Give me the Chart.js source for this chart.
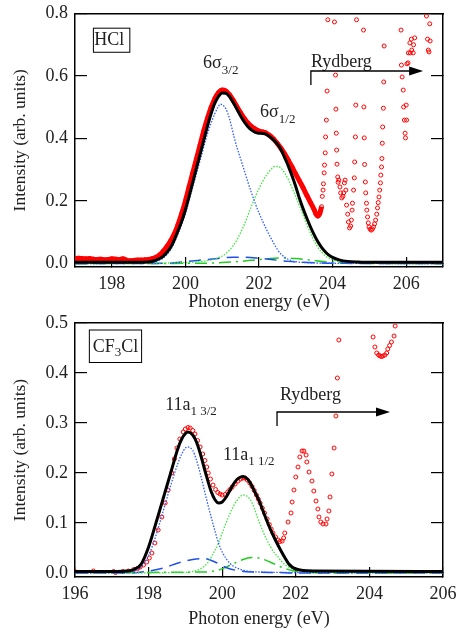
<!doctype html>
<html>
<head>
<meta charset="utf-8">
<title>HCl / CF3Cl</title>
<script src="https://cdn.jsdelivr.net/npm/chart.js@4.4.1/dist/chart.umd.min.js"></script>
<style>
  body { margin: 0; background: #fff; }
  .panel { position: absolute; left: 0; width: 456px; }
  .frameTop { position: absolute; left: 74px; width: 370px; height: 0; border-top: 1.5px solid #000; z-index: 5; }
</style>
</head>
<body>
<div class="panel" style="top:0;height:317px"><canvas id="hcl" width="456" height="317"></canvas></div>
<div class="panel" style="top:295px;height:339px"><canvas id="cf3cl" width="456" height="339"></canvas></div>
<div class="frameTop" style="top:13px"></div>
<div class="frameTop" style="top:322px"></div>
<script>
// ---------- HCl (top panel) ----------
var hclXTicks = [198, 200, 202, 204, 206];
var hclYTicks = [0, 0.2, 0.4, 0.6, 0.8];

// measured points, dense part (drawn as a thick band)
var hclExpX = [197.0,197.1,197.2,197.3,197.4,197.5,197.6,197.7,197.8,197.9,198.0,198.1,198.2,198.3,198.4,198.5,198.6,198.7,198.8,198.9,
  199.0,199.1,199.2,199.3,199.4,199.5,199.6,199.7,199.8,199.9,200.0,200.1,200.2,200.3,200.4,200.5,200.6,200.7,200.8,200.9,
  201.0,201.1,201.2,201.3,201.4,201.5,201.6,201.7,201.8,201.9,202.0,202.1,202.2,202.3,202.4,202.5,202.6,202.7,202.8,202.9,
  203.0,203.1,203.2,203.3,203.4,203.5,203.55,203.6,203.65,203.7];
var hclExpY = [0.016,0.017,0.016,0.015,0.016,0.014,0.013,0.014,0.012,0.013,0.015,0.014,0.013,0.015,0.011,0.009,0.010,0.011,0.011,0.012,
  0.013,0.016,0.020,0.028,0.040,0.055,0.073,0.095,0.125,0.160,0.200,0.245,0.290,0.335,0.380,0.425,0.465,0.500,0.528,0.547,
  0.555,0.552,0.540,0.522,0.502,0.482,0.464,0.449,0.438,0.430,0.424,0.421,0.417,0.409,0.398,0.384,0.368,0.350,0.330,0.308,
  0.286,0.264,0.242,0.218,0.195,0.172,0.158,0.152,0.160,0.182];

// measured points, Rydberg region
var hclRydX = [203.72,203.74,203.75,203.77,203.78,203.80,203.81,203.83,203.85,203.87,
  204.05,204.08,204.09,204.10,204.11,204.12,204.14,204.15,204.17,204.20,204.22,204.25,204.28,204.30,204.32,204.34,204.36,204.38,
  204.41,204.43,204.46,204.49,204.51,204.53,204.54,204.57,204.59,204.60,204.62,204.63,204.65,
  204.84,204.85,204.86,204.87,204.89,204.90,204.92,204.93,204.95,204.97,204.99,205.02,205.05,205.08,205.11,205.14,205.17,
  205.20,205.22,205.24,205.26,205.28,205.30,205.31,205.33,205.34,205.35,205.36,205.38,205.39,205.40,
  205.86,205.87,205.89,205.92,205.93,205.95,205.97,205.98,206.00,206.01,206.02,206.05,206.06,206.10,206.11,206.14,206.15,
  206.19,206.20,206.23,206.55,206.58,206.60,206.62,206.64,206.65];
var hclRydY = [0.215,0.235,0.255,0.290,0.315,0.354,0.405,0.459,0.552,0.780,
  0.773,0.603,0.494,0.417,0.363,0.318,0.277,0.260,0.267,0.245,0.226,0.210,0.215,0.226,0.258,0.267,0.235,0.187,
  0.158,0.133,0.114,0.120,0.139,0.171,0.193,0.235,0.274,0.325,0.405,0.507,0.780,
  0.747,0.501,0.402,0.317,0.261,0.226,0.193,0.171,0.149,0.130,0.117,0.110,0.107,0.110,0.117,0.127,0.139,
  0.158,0.178,0.195,0.213,0.235,0.258,0.283,0.309,0.336,0.385,0.437,0.497,0.581,0.696,
  0.747,0.635,0.597,0.555,0.501,0.459,0.417,0.402,0.507,0.459,0.639,0.642,0.674,0.706,0.674,0.718,0.683,
  0.674,0.700,0.722,0.792,0.718,0.683,0.677,0.767,0.712];

// fit (sum)
var hclFitX = [197.0,198.0,199.0,199.2,199.3,199.4,199.5,199.6,199.7,199.8,199.9,200.0,200.1,200.2,200.3,200.4,200.5,200.6,200.7,200.8,200.9,
  201.0,201.1,201.2,201.3,201.4,201.5,201.6,201.7,201.8,201.9,202.0,202.1,202.2,202.3,202.4,202.5,202.6,202.7,202.8,202.9,
  203.0,203.1,203.2,203.3,203.4,203.5,203.6,203.7,203.8,203.9,204.0,204.2,204.4,204.7,205.0,207.0];
var hclFitY = [0.004,0.004,0.005,0.011,0.016,0.024,0.036,0.052,0.076,0.105,0.135,0.172,0.215,0.260,0.305,0.350,0.395,0.440,0.480,0.513,0.535,
  0.546,0.545,0.534,0.515,0.494,0.472,0.453,0.438,0.427,0.420,0.417,0.416,0.413,0.405,0.395,0.382,0.364,0.338,0.311,0.280,
  0.246,0.208,0.175,0.145,0.117,0.092,0.070,0.052,0.038,0.027,0.020,0.011,0.007,0.005,0.004,0.004];

// 6s 3/2 component (blue dotted)
var hclS32X = [197.0,199.0,199.4,199.6,199.8,200.0,200.2,200.4,200.6,200.8,200.9,200.95,201.0,201.1,201.2,201.32,201.4,201.5,201.6,201.7,201.8,201.9,
  202.0,202.1,202.2,202.3,202.4,202.5,202.6,202.8,203.0,203.5,204.0,207.0];
var hclS32Y = [0.000,0.003,0.018,0.045,0.095,0.160,0.245,0.330,0.415,0.480,0.503,0.510,0.508,0.495,0.463,0.406,0.372,0.335,0.298,0.260,0.225,0.192,
  0.162,0.135,0.110,0.087,0.065,0.045,0.030,0.013,0.006,0.002,0.001,0.000];

// 6s 1/2 component (green dotted)
var hclS12X = [197.0,200.0,200.5,200.8,201.0,201.2,201.4,201.6,201.8,202.0,202.2,202.45,202.6,202.8,203.0,203.2,203.4,203.6,203.8,204.0,204.4,205.0,207.0];
var hclS12Y = [0.000,0.003,0.008,0.015,0.024,0.043,0.076,0.125,0.185,0.240,0.282,0.311,0.305,0.268,0.214,0.155,0.097,0.052,0.025,0.012,0.004,0.001,0.000];

// small broad components (dashed)
var hclBlueDashX = [197.0,199.5,200.0,200.5,201.0,201.3,201.6,202.0,202.4,202.8,203.2,203.6,204.0,207.0];
var hclBlueDashY = [0.000,0.001,0.006,0.012,0.018,0.020,0.020,0.017,0.012,0.007,0.004,0.002,0.001,0.000];
var hclGreenDashX = [197.0,200.5,201.0,201.5,202.0,202.4,202.7,203.0,203.4,203.8,204.2,204.6,207.0];
var hclGreenDashY = [0.000,0.001,0.003,0.007,0.013,0.017,0.018,0.016,0.011,0.006,0.003,0.001,0.000];

// ---------- CF3Cl (bottom panel) ----------
var cfXTicks = [196, 198, 200, 202, 204, 206];
var cfYTicks = [0, 0.1, 0.2, 0.3, 0.4, 0.5];

var cfExpX = [196.0,196.5,197.05,197.1,197.3,197.45,197.6,197.7,197.77,197.86,197.95,198.02,198.09,198.17,198.26,198.36,198.45,198.53,198.63,
  198.7,198.77,198.85,198.94,199.0,199.07,199.13,199.2,199.26,199.33,199.4,199.47,199.53,199.58,199.62,199.68,199.75,199.82,199.88,199.94,
  200.0,200.08,200.15,200.21,200.27,200.35,200.43,200.5,200.56,200.62,200.68,200.75,200.81,200.87,200.93,200.98,201.03,201.09,201.15,
  201.22,201.28,201.33,201.38,201.45,201.52,201.57,201.63,201.67,201.7,201.79,201.87,201.9,201.95,202.0,202.06,202.11,202.17,202.22,
  202.28,202.3,202.36,202.44,202.49,202.55,202.6,202.63,202.68,202.74,202.82,202.85,202.9,202.93,202.98,203.04,203.09,203.13,203.17,
  204.1,204.15,204.2,204.25,204.29,204.33,204.37,204.42,204.47,204.5,204.55,204.6,204.67,204.7];
var cfExpY = [0.003,0.004,0.003,0.001,0.003,0.004,0.007,0.009,0.012,0.016,0.022,0.030,0.040,0.060,0.086,0.112,0.140,0.166,0.200,
  0.228,0.250,0.268,0.282,0.288,0.291,0.290,0.285,0.278,0.265,0.252,0.238,0.225,0.212,0.200,0.188,0.176,0.167,0.161,0.158,
  0.156,0.157,0.162,0.167,0.172,0.178,0.184,0.188,0.190,0.190,0.186,0.180,0.173,0.165,0.156,0.148,0.140,0.130,0.120,
  0.108,0.097,0.088,0.080,0.072,0.066,0.063,0.064,0.070,0.080,0.102,0.120,0.142,0.166,0.192,0.212,0.232,0.244,0.244,
  0.236,0.222,0.202,0.184,0.164,0.144,0.128,0.112,0.102,0.098,0.098,0.108,0.124,0.152,0.198,0.250,0.314,0.390,0.466,
  0.472,0.452,0.440,0.436,0.434,0.433,0.434,0.436,0.440,0.448,0.455,0.462,0.474,0.494];

var cfFitX = [196.0,197.0,197.4,197.6,197.8,198.0,198.2,198.4,198.6,198.8,198.9,199.0,199.07,199.2,199.3,199.4,199.5,199.6,199.7,199.8,199.9,
  200.0,200.1,200.2,200.3,200.4,200.5,200.57,200.7,200.8,200.9,201.0,201.1,201.2,201.3,201.4,201.5,201.6,201.7,201.8,201.9,202.0,202.2,202.5,206.0];
var cfFitY = [0.003,0.003,0.004,0.007,0.018,0.052,0.100,0.150,0.200,0.250,0.268,0.279,0.282,0.276,0.262,0.240,0.213,0.187,0.163,0.147,0.140,
  0.142,0.151,0.164,0.177,0.187,0.192,0.193,0.187,0.175,0.160,0.145,0.126,0.107,0.089,0.073,0.058,0.044,0.031,0.019,0.012,0.008,0.005,0.004,0.003];

// 11a1 3/2 component (blue dotted)
var cfA32X = [196.0,197.5,197.6,197.8,198.0,198.2,198.4,198.6,198.8,198.9,199.0,199.07,199.2,199.3,199.4,199.5,199.6,199.7,199.8,199.9,
  200.0,200.2,200.4,200.6,201.0,202.0,206.0];
var cfA32Y = [0.000,0.001,0.004,0.012,0.035,0.075,0.125,0.175,0.220,0.238,0.250,0.252,0.245,0.226,0.200,0.170,0.140,0.112,0.085,0.060,
  0.042,0.020,0.010,0.005,0.002,0.001,0.000];

// 11a1 1/2 component (green dotted)
var cfA12X = [196.0,199.0,199.2,199.4,199.6,199.8,199.9,200.0,200.2,200.4,200.57,200.7,200.8,201.0,201.2,201.4,201.52,201.6,201.8,202.0,202.3,203.0,206.0];
var cfA12Y = [0.000,0.001,0.003,0.008,0.020,0.045,0.060,0.080,0.117,0.145,0.156,0.152,0.142,0.103,0.068,0.042,0.032,0.024,0.012,0.006,0.002,0.001,0.000];

var cfBlueDashX = [196.0,197.5,198.0,198.4,198.8,199.2,199.5,199.8,200.1,200.4,200.8,201.5,202.0,206.0];
var cfBlueDashY = [0.000,0.000,0.004,0.010,0.020,0.027,0.029,0.022,0.011,0.005,0.002,0.001,0.000,0.000];
var cfGreenDashX = [196.0,199.5,199.9,200.2,200.5,200.8,201.0,201.3,201.6,201.9,202.2,203.0,206.0];
var cfGreenDashY = [0.001,0.002,0.006,0.015,0.025,0.031,0.030,0.022,0.012,0.005,0.002,0.000,0.000];

// ---------- helpers ----------
var SERIF = '"Liberation Serif", "DejaVu Serif", serif';
var INK = '#222';

function pts(xs, ys) {
  return xs.map(function (x, i) { return { x: x, y: ys[i] }; });
}

function lineSet(xs, ys, color, width, dash, order) {
  return {
    data: pts(xs, ys), showLine: true, borderColor: color, borderWidth: width,
    borderDash: dash, pointRadius: 0, cubicInterpolationMode: 'monotone', order: order
  };
}

function circleSet(xs, ys, order, bandWidth) {
  return {
    data: pts(xs, ys), showLine: !!bandWidth, borderColor: 'red', borderWidth: bandWidth || 0,
    cubicInterpolationMode: 'monotone',
    pointRadius: 2, pointBorderWidth: 1, pointBorderColor: 'red',
    pointBackgroundColor: 'rgba(0,0,0,0)', order: order
  };
}

// the plot box is fixed by the axis sizes; drop the label overhang padding
function fixSize(prop, size) {
  return function (s) {
    s[prop] = size;
    s.paddingTop = 0; s.paddingBottom = 0; s.paddingLeft = 0; s.paddingRight = 0;
  };
}

function scales(xMin, xMax, xTicks, yMin, yMax, yTicks, topH, bottomH) {
  var setX = function (s) { s.ticks = xTicks.map(function (v) { return { value: v }; }); };
  var setY = function (s) { s.ticks = yTicks.map(function (v) { return { value: v }; }); };
  return {
    x: {
      type: 'linear', position: 'bottom', min: xMin, max: xMax,
      afterBuildTicks: setX, afterFit: fixSize('height', bottomH),
      grid: { drawOnChartArea: false, tickLength: -10, color: '#000', lineWidth: 1.2 },
      border: { color: '#000', width: 1.5 },
      ticks: { padding: 16, color: INK, font: { family: SERIF, size: 18 }, maxRotation: 0,
        callback: function (v) { return String(v); } },
      title: { display: true, text: 'Photon energy (eV)', color: INK,
        font: { family: SERIF, size: 18 }, padding: { top: 0, bottom: 4 } }
    },
    x2: {
      type: 'linear', position: 'top', min: xMin, max: xMax,
      afterFit: fixSize('height', topH),
      grid: { display: true, drawOnChartArea: false, drawTicks: false },
      ticks: { display: false },
      border: { display: true, color: '#000', width: 1.5 }
    },
    y: {
      type: 'linear', position: 'left', min: yMin, max: yMax,
      afterBuildTicks: setY, afterFit: fixSize('width', 75),
      grid: { drawOnChartArea: false, tickLength: -12, color: '#000', lineWidth: 1.2 },
      border: { color: '#000', width: 1.5 },
      ticks: { padding: 19, color: INK, font: { family: SERIF, size: 18 },
        callback: function (v) { return v.toFixed(1); } },
      title: { display: true, text: 'Intensity (arb. units)', color: INK,
        font: { family: SERIF, size: 17.5 }, padding: { top: 10, bottom: 0 } }
    },
    y2: {
      type: 'linear', position: 'right', min: yMin, max: yMax,
      afterBuildTicks: setY, afterFit: fixSize('width', 13),
      grid: { drawOnChartArea: false, tickLength: -12, color: '#000', lineWidth: 1.2 },
      ticks: { display: false },
      border: { color: '#000', width: 1.5 }
    }
  };
}

// text with subscripts: parts = [[text, size, dy], ...]
function rich(ctx, x, y, parts) {
  ctx.textBaseline = 'alphabetic';
  ctx.textAlign = 'left';
  parts.forEach(function (p) {
    ctx.font = p[1] + 'px ' + SERIF;
    ctx.fillText(p[0], x, y + p[2]);
    x += ctx.measureText(p[0]).width;
  });
}

function arrow(ctx, x0, yTop, yLow, x1) {
  ctx.strokeStyle = '#000';
  ctx.fillStyle = '#000';
  ctx.lineWidth = 1.3;
  ctx.beginPath();
  ctx.moveTo(x0, yLow);
  ctx.lineTo(x0, yTop);
  ctx.lineTo(x1 - 12, yTop);
  ctx.stroke();
  ctx.beginPath();
  ctx.moveTo(x1, yTop);
  ctx.lineTo(x1 - 14, yTop - 4.5);
  ctx.lineTo(x1 - 14, yTop + 4.5);
  ctx.closePath();
  ctx.fill();
}

function notes(draw) {
  return {
    id: 'notes',
    afterDraw: function (chart) {
      var X = function (v) { return chart.scales.x.getPixelForValue(v); };
      var Y = function (v) { return chart.scales.y.getPixelForValue(v); };
      var ctx = chart.ctx;
      ctx.save();
      ctx.setLineDash([]);
      ctx.fillStyle = INK;
      draw(ctx, X, Y);
      ctx.restore();
    }
  };
}

function makeChart(id, datasets, sc, plugin) {
  new Chart(document.getElementById(id), {
    type: 'scatter',
    data: { datasets: datasets },
    options: {
      responsive: false, animation: false, devicePixelRatio: 1,
      layout: { padding: 0 },
      plugins: { legend: { display: false }, tooltip: { enabled: false } },
      scales: sc
    },
    plugins: [plugin]
  });
}

// ---------- top chart ----------
makeChart('hcl', [
  lineSet(hclFitX, hclFitY, '#000', 3, [], 0),
  lineSet(hclS32X, hclS32Y, '#2f5bff', 1.3, [1.5, 1.5], 1),
  lineSet(hclS12X, hclS12Y, '#3ee63e', 1.3, [1.5, 1.5], 2),
  lineSet(hclBlueDashX, hclBlueDashY, '#1f4fe8', 1.5, [12, 7], 3),
  lineSet(hclGreenDashX, hclGreenDashY, '#22cc22', 1.5, [12, 5, 2, 5], 4),
  circleSet(hclExpX, hclExpY, 5, 5),
  circleSet(hclRydX, hclRydY, 6)
], scales(197, 207, hclXTicks, -0.011, 0.8, hclYTicks, 13.5, 50), notes(function (ctx, X, Y) {
  ctx.strokeStyle = '#000';
  ctx.lineWidth = 1;
  ctx.strokeRect(X(197.5), Y(0.753), X(198.49) - X(197.5), Y(0.676) - Y(0.753));
  rich(ctx, X(197.52), Y(0.699), [['HCl', 18, 0]]);
  rich(ctx, X(200.48), Y(0.626), [['6\u03c3', 18, 0], ['3/2', 13, 6]]);
  rich(ctx, X(202.03), Y(0.469), [['6\u03c3', 18, 0], ['1/2', 13, 6]]);
  rich(ctx, X(203.41), Y(0.629), [['Rydberg', 18, 0]]);
  arrow(ctx, X(203.41), Y(0.616), Y(0.571), X(206.46));
}));

// ---------- bottom chart ----------
makeChart('cf3cl', [
  lineSet(cfFitX, cfFitY, '#000', 3, [], 0),
  lineSet(cfA32X, cfA32Y, '#2f5bff', 1.3, [1.5, 1.5], 1),
  lineSet(cfA12X, cfA12Y, '#3ee63e', 1.3, [1.5, 1.5], 2),
  lineSet(cfBlueDashX, cfBlueDashY, '#1f4fe8', 1.5, [12, 7], 3),
  lineSet(cfGreenDashX, cfGreenDashY, '#22cc22', 1.5, [12, 5, 2, 5], 4),
  circleSet(cfExpX, cfExpY, 5)
], scales(196, 206, cfXTicks, -0.008, 0.5, cfYTicks, 28, 57), notes(function (ctx, X, Y) {
  ctx.strokeStyle = '#000';
  ctx.lineWidth = 1;
  ctx.strokeRect(X(196.39), Y(0.486), X(197.81) - X(196.39), Y(0.421) - Y(0.486));
  rich(ctx, X(196.48), Y(0.442), [['CF', 18, 0], ['3', 13, 4], ['Cl', 18, 0]]);
  rich(ctx, X(198.45), Y(0.326), [['11a', 18, 0], ['1 3/2', 13, 5]]);
  rich(ctx, X(200.02), Y(0.226), [['11a', 18, 0], ['1 1/2', 13, 5]]);
  rich(ctx, X(201.57), Y(0.346), [['Rydberg', 18, 0]]);
  arrow(ctx, X(201.49), Y(0.322), Y(0.294), X(204.56));
}));
</script>
</body>
</html>
